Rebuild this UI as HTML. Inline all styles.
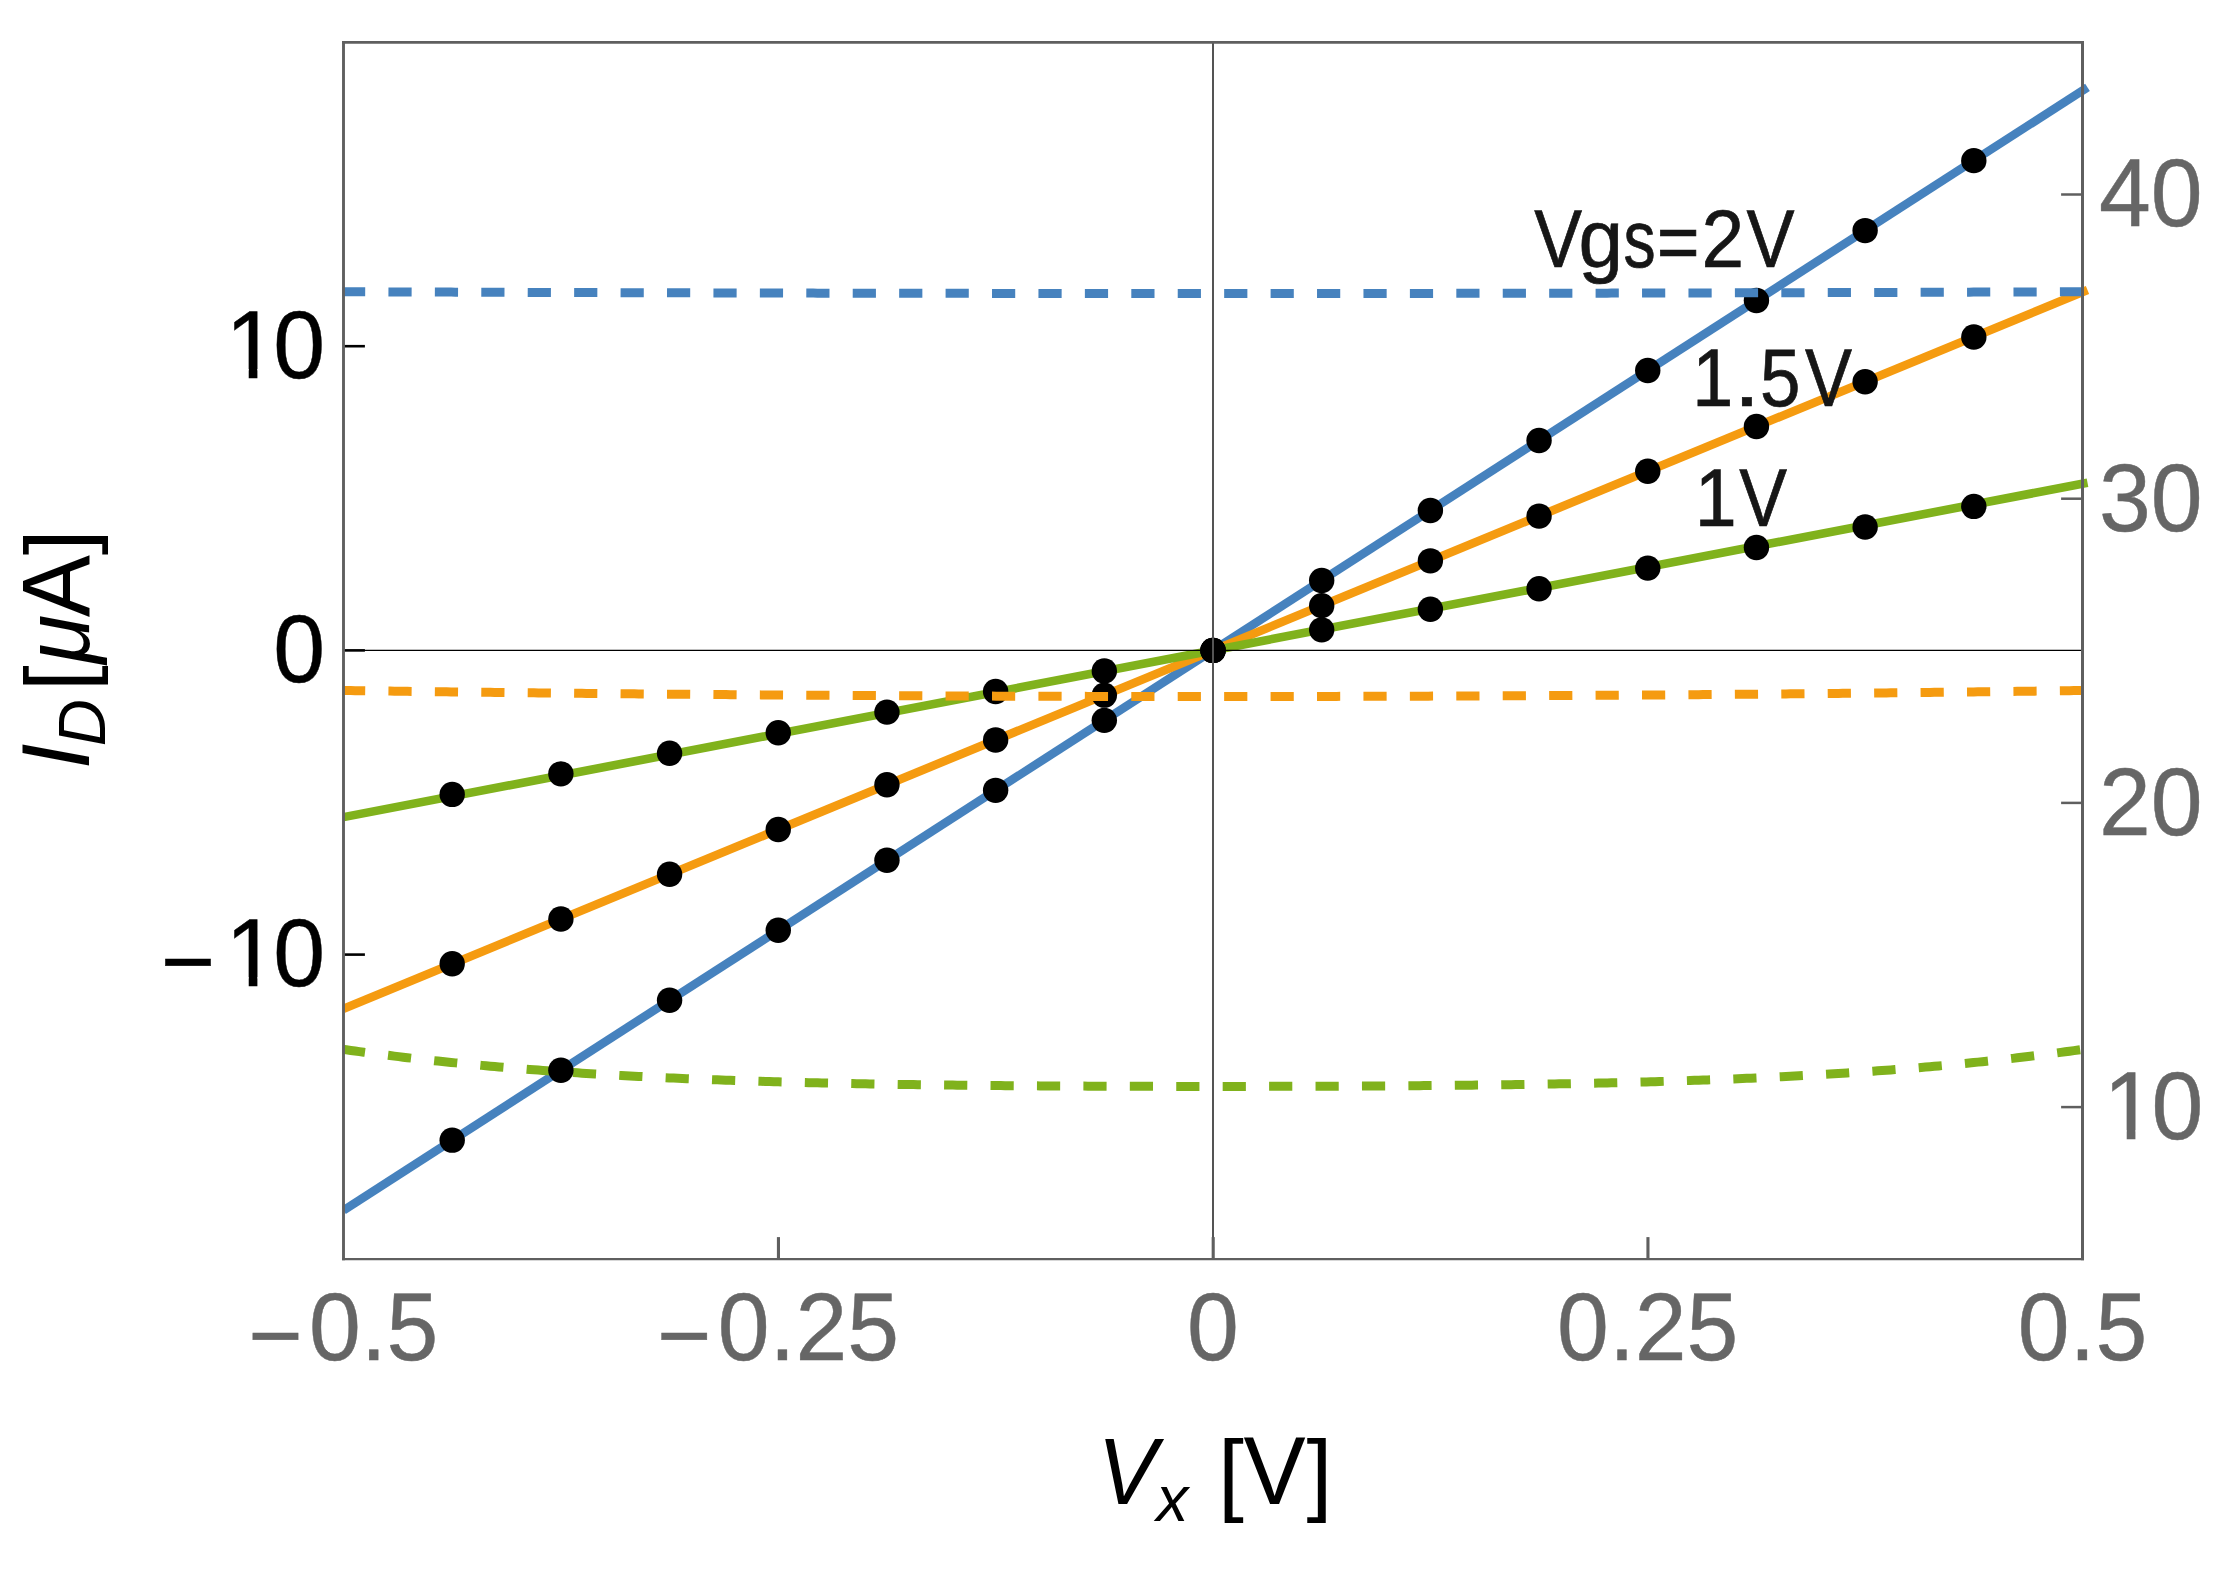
<!DOCTYPE html>
<html lang="en"><head><meta charset="utf-8"><title>ID vs Vx</title>
<style>html,body{margin:0;padding:0;background:#fff;width:2235px;height:1584px;overflow:hidden}svg{display:block}text{font-family:"Liberation Sans",sans-serif}</style></head><body>
<svg width="2235" height="1584" viewBox="0 0 2235 1584">
<rect width="2235" height="1584" fill="#fff"/>
<clipPath id="cs"><rect x="342.5" y="0" width="1759.0" height="1584"/></clipPath>
<g id="solid" fill="none" stroke-width="8.6" stroke-linecap="butt" clip-path="url(#cs)">
<line x1="343.50" y1="1210.28" x2="2087.50" y2="87.30" stroke="#4682be"/>
<line x1="343.50" y1="1008.75" x2="2087.50" y2="289.99" stroke="#f59b10"/>
<line x1="343.50" y1="817.10" x2="2087.50" y2="482.74" stroke="#80b21c"/>
</g>
<clipPath id="cl"><rect x="342.5" y="0" width="1745.0" height="1584"/></clipPath>
<g clip-path="url(#cl)"><path d="M342.00,1049.19 L346.36,1049.81 L350.73,1050.42 L355.09,1051.02 L359.45,1051.62 L363.81,1052.21 L368.18,1052.79 L372.54,1053.36 L376.90,1053.93 L381.26,1054.49 L385.62,1055.04 L389.99,1055.58 L394.35,1056.12 L398.71,1056.65 L403.07,1057.17 L407.44,1057.68 L411.80,1058.19 L416.16,1058.69 L420.52,1059.18 L424.89,1059.67 L429.25,1060.15 L433.61,1060.62 L437.98,1061.09 L442.34,1061.54 L446.70,1062.00 L451.06,1062.44 L455.43,1062.88 L459.79,1063.32 L464.15,1063.74 L468.51,1064.17 L472.88,1064.58 L477.24,1064.99 L481.60,1065.39 L485.96,1065.79 L490.32,1066.18 L494.69,1066.57 L499.05,1066.95 L503.41,1067.32 L507.77,1067.69 L512.14,1068.05 L516.50,1068.41 L520.86,1068.76 L525.23,1069.10 L529.59,1069.45 L533.95,1069.78 L538.31,1070.11 L542.67,1070.44 L547.04,1070.76 L551.40,1071.07 L555.76,1071.38 L560.12,1071.69 L564.49,1071.99 L568.85,1072.28 L573.21,1072.57 L577.58,1072.86 L581.94,1073.14 L586.30,1073.42 L590.66,1073.69 L595.02,1073.96 L599.39,1074.22 L603.75,1074.48 L608.11,1074.74 L612.48,1074.99 L616.84,1075.23 L621.20,1075.48 L625.56,1075.71 L629.92,1075.95 L634.29,1076.18 L638.65,1076.40 L643.01,1076.63 L647.38,1076.85 L651.74,1077.06 L656.10,1077.27 L660.46,1077.48 L664.83,1077.68 L669.19,1077.88 L673.55,1078.08 L677.91,1078.27 L682.27,1078.46 L686.64,1078.65 L691.00,1078.83 L695.36,1079.01 L699.73,1079.18 L704.09,1079.36 L708.45,1079.52 L712.81,1079.69 L717.17,1079.85 L721.54,1080.01 L725.90,1080.17 L730.26,1080.33 L734.62,1080.48 L738.99,1080.63 L743.35,1080.77 L747.71,1080.91 L752.08,1081.05 L756.44,1081.19 L760.80,1081.33 L765.16,1081.46 L769.52,1081.59 L773.89,1081.71 L778.25,1081.84 L782.61,1081.96 L786.98,1082.08 L791.34,1082.20 L795.70,1082.31 L800.06,1082.42 L804.42,1082.53 L808.79,1082.64 L813.15,1082.74 L817.51,1082.85 L821.88,1082.95 L826.24,1083.05 L830.60,1083.14 L834.96,1083.24 L839.33,1083.33 L843.69,1083.42 L848.05,1083.51 L852.41,1083.60 L856.77,1083.68 L861.14,1083.76 L865.50,1083.85 L869.86,1083.92 L874.23,1084.00 L878.59,1084.08 L882.95,1084.15 L887.31,1084.22 L891.67,1084.29 L896.04,1084.36 L900.40,1084.43 L904.76,1084.50 L909.12,1084.56 L913.49,1084.62 L917.85,1084.69 L922.21,1084.75 L926.58,1084.80 L930.94,1084.86 L935.30,1084.92 L939.66,1084.97 L944.02,1085.02 L948.39,1085.07 L952.75,1085.12 L957.11,1085.17 L961.48,1085.22 L965.84,1085.27 L970.20,1085.31 L974.56,1085.36 L978.92,1085.40 L983.29,1085.44 L987.65,1085.48 L992.01,1085.52 L996.38,1085.56 L1000.74,1085.60 L1005.10,1085.63 L1009.46,1085.67 L1013.83,1085.70 L1018.19,1085.73 L1022.55,1085.77 L1026.91,1085.80 L1031.28,1085.83 L1035.64,1085.86 L1040.00,1085.89 L1044.36,1085.91 L1048.72,1085.94 L1053.09,1085.97 L1057.45,1085.99 L1061.81,1086.01 L1066.17,1086.04 L1070.54,1086.06 L1074.90,1086.08 L1079.26,1086.10 L1083.62,1086.12 L1087.99,1086.14 L1092.35,1086.16 L1096.71,1086.18 L1101.08,1086.19 L1105.44,1086.21 L1109.80,1086.23 L1114.16,1086.24 L1118.53,1086.25 L1122.89,1086.27 L1127.25,1086.28 L1131.61,1086.29 L1135.97,1086.30 L1140.34,1086.31 L1144.70,1086.33 L1149.06,1086.33 L1153.42,1086.34 L1157.79,1086.35 L1162.15,1086.36 L1166.51,1086.37 L1170.88,1086.37 L1175.24,1086.38 L1179.60,1086.38 L1183.96,1086.39 L1188.33,1086.39 L1192.69,1086.39 L1197.05,1086.40 L1201.41,1086.40 L1205.78,1086.40 L1210.14,1086.40 L1214.50,1086.40 L1218.86,1086.40 L1223.22,1086.40 L1227.59,1086.40 L1231.95,1086.39 L1236.31,1086.39 L1240.67,1086.39 L1245.04,1086.38 L1249.40,1086.38 L1253.76,1086.37 L1258.12,1086.37 L1262.49,1086.36 L1266.85,1086.35 L1271.21,1086.35 L1275.58,1086.34 L1279.94,1086.33 L1284.30,1086.32 L1288.66,1086.31 L1293.03,1086.30 L1297.39,1086.28 L1301.75,1086.27 L1306.11,1086.26 L1310.47,1086.25 L1314.84,1086.23 L1319.20,1086.22 L1323.56,1086.20 L1327.92,1086.18 L1332.29,1086.17 L1336.65,1086.15 L1341.01,1086.13 L1345.38,1086.11 L1349.74,1086.09 L1354.10,1086.07 L1358.46,1086.04 L1362.83,1086.02 L1367.19,1086.00 L1371.55,1085.97 L1375.91,1085.95 L1380.28,1085.92 L1384.64,1085.89 L1389.00,1085.87 L1393.36,1085.84 L1397.72,1085.81 L1402.09,1085.78 L1406.45,1085.74 L1410.81,1085.71 L1415.17,1085.68 L1419.54,1085.64 L1423.90,1085.61 L1428.26,1085.57 L1432.62,1085.53 L1436.99,1085.49 L1441.35,1085.45 L1445.71,1085.41 L1450.08,1085.37 L1454.44,1085.33 L1458.80,1085.28 L1463.16,1085.24 L1467.53,1085.19 L1471.89,1085.14 L1476.25,1085.09 L1480.61,1085.04 L1484.97,1084.99 L1489.34,1084.93 L1493.70,1084.88 L1498.06,1084.82 L1502.42,1084.76 L1506.79,1084.70 L1511.15,1084.64 L1515.51,1084.58 L1519.88,1084.52 L1524.24,1084.45 L1528.60,1084.39 L1532.96,1084.32 L1537.33,1084.25 L1541.69,1084.17 L1546.05,1084.10 L1550.41,1084.03 L1554.78,1083.95 L1559.14,1083.87 L1563.50,1083.79 L1567.86,1083.71 L1572.22,1083.62 L1576.59,1083.54 L1580.95,1083.45 L1585.31,1083.36 L1589.67,1083.27 L1594.04,1083.17 L1598.40,1083.08 L1602.76,1082.98 L1607.12,1082.88 L1611.49,1082.78 L1615.85,1082.67 L1620.21,1082.57 L1624.58,1082.46 L1628.94,1082.34 L1633.30,1082.23 L1637.66,1082.12 L1642.03,1082.00 L1646.39,1081.88 L1650.75,1081.75 L1655.11,1081.63 L1659.47,1081.50 L1663.84,1081.37 L1668.20,1081.23 L1672.56,1081.10 L1676.92,1080.96 L1681.29,1080.82 L1685.65,1080.67 L1690.01,1080.52 L1694.38,1080.37 L1698.74,1080.22 L1703.10,1080.06 L1707.46,1079.90 L1711.83,1079.74 L1716.19,1079.58 L1720.55,1079.41 L1724.91,1079.24 L1729.28,1079.06 L1733.64,1078.88 L1738.00,1078.70 L1742.36,1078.52 L1746.72,1078.33 L1751.09,1078.14 L1755.45,1077.94 L1759.81,1077.74 L1764.17,1077.54 L1768.54,1077.34 L1772.90,1077.13 L1777.26,1076.91 L1781.62,1076.70 L1785.99,1076.47 L1790.35,1076.25 L1794.71,1076.02 L1799.08,1075.79 L1803.44,1075.55 L1807.80,1075.31 L1812.16,1075.06 L1816.53,1074.82 L1820.89,1074.56 L1825.25,1074.30 L1829.61,1074.04 L1833.97,1073.78 L1838.34,1073.50 L1842.70,1073.23 L1847.06,1072.95 L1851.42,1072.66 L1855.79,1072.38 L1860.15,1072.08 L1864.51,1071.78 L1868.88,1071.48 L1873.24,1071.17 L1877.60,1070.86 L1881.96,1070.54 L1886.33,1070.21 L1890.69,1069.89 L1895.05,1069.55 L1899.41,1069.21 L1903.78,1068.87 L1908.14,1068.52 L1912.50,1068.16 L1916.86,1067.80 L1921.22,1067.43 L1925.59,1067.06 L1929.95,1066.69 L1934.31,1066.30 L1938.67,1065.91 L1943.04,1065.52 L1947.40,1065.12 L1951.76,1064.71 L1956.12,1064.30 L1960.49,1063.88 L1964.85,1063.45 L1969.21,1063.02 L1973.58,1062.58 L1977.94,1062.14 L1982.30,1061.69 L1986.66,1061.23 L1991.03,1060.77 L1995.39,1060.30 L1999.75,1059.82 L2004.11,1059.33 L2008.47,1058.84 L2012.84,1058.35 L2017.20,1057.84 L2021.56,1057.33 L2025.92,1056.81 L2030.29,1056.28 L2034.65,1055.75 L2039.01,1055.21 L2043.38,1054.66 L2047.74,1054.10 L2052.10,1053.54 L2056.46,1052.97 L2060.82,1052.39 L2065.19,1051.81 L2069.55,1051.21 L2073.91,1050.61 L2078.28,1050.00 L2082.64,1049.38 L2087.00,1048.75" fill="none" stroke="#80b21c" stroke-width="9" stroke-dasharray="23.2 23.23"/></g>
<g id="dots" fill="#000">
<circle cx="452.19" cy="794.40" r="12.7"/>
<circle cx="560.88" cy="773.83" r="12.7"/>
<circle cx="669.56" cy="753.26" r="12.7"/>
<circle cx="778.25" cy="732.69" r="12.7"/>
<circle cx="886.94" cy="712.11" r="12.7"/>
<circle cx="995.62" cy="691.54" r="12.7"/>
<circle cx="1104.31" cy="670.97" r="12.7"/>
<circle cx="1213.00" cy="650.40" r="12.7"/>
<circle cx="1321.69" cy="629.83" r="12.7"/>
<circle cx="1430.38" cy="609.26" r="12.7"/>
<circle cx="1539.06" cy="588.69" r="12.7"/>
<circle cx="1647.75" cy="568.11" r="12.7"/>
<circle cx="1756.44" cy="547.54" r="12.7"/>
<circle cx="1865.12" cy="526.97" r="12.7"/>
<circle cx="1973.81" cy="506.40" r="12.7"/>
<circle cx="452.19" cy="963.82" r="12.7"/>
<circle cx="560.88" cy="919.05" r="12.7"/>
<circle cx="669.56" cy="874.27" r="12.7"/>
<circle cx="778.25" cy="829.50" r="12.7"/>
<circle cx="886.94" cy="784.72" r="12.7"/>
<circle cx="995.62" cy="739.95" r="12.7"/>
<circle cx="1104.31" cy="695.17" r="12.7"/>
<circle cx="1213.00" cy="650.40" r="12.7"/>
<circle cx="1321.69" cy="605.63" r="12.7"/>
<circle cx="1430.38" cy="560.85" r="12.7"/>
<circle cx="1539.06" cy="516.08" r="12.7"/>
<circle cx="1647.75" cy="471.30" r="12.7"/>
<circle cx="1756.44" cy="426.53" r="12.7"/>
<circle cx="1865.12" cy="381.75" r="12.7"/>
<circle cx="1973.81" cy="336.98" r="12.7"/>
<circle cx="452.19" cy="1140.16" r="12.7"/>
<circle cx="560.88" cy="1070.20" r="12.7"/>
<circle cx="669.56" cy="1000.23" r="12.7"/>
<circle cx="778.25" cy="930.26" r="12.7"/>
<circle cx="886.94" cy="860.30" r="12.7"/>
<circle cx="995.62" cy="790.33" r="12.7"/>
<circle cx="1104.31" cy="720.37" r="12.7"/>
<circle cx="1213.00" cy="650.40" r="12.7"/>
<circle cx="1321.69" cy="580.43" r="12.7"/>
<circle cx="1430.38" cy="510.47" r="12.7"/>
<circle cx="1539.06" cy="440.50" r="12.7"/>
<circle cx="1647.75" cy="370.54" r="12.7"/>
<circle cx="1756.44" cy="300.57" r="12.7"/>
<circle cx="1865.12" cy="230.60" r="12.7"/>
<circle cx="1973.81" cy="160.64" r="12.7"/>
</g>
<g clip-path="url(#cl)"><path d="M342.00,690.48 L346.36,690.54 L350.73,690.60 L355.09,690.66 L359.45,690.72 L363.81,690.78 L368.18,690.84 L372.54,690.89 L376.90,690.95 L381.26,691.01 L385.62,691.07 L389.99,691.12 L394.35,691.18 L398.71,691.24 L403.07,691.29 L407.44,691.35 L411.80,691.41 L416.16,691.46 L420.52,691.52 L424.89,691.57 L429.25,691.63 L433.61,691.68 L437.98,691.73 L442.34,691.79 L446.70,691.84 L451.06,691.89 L455.43,691.95 L459.79,692.00 L464.15,692.05 L468.51,692.10 L472.88,692.15 L477.24,692.20 L481.60,692.25 L485.96,692.31 L490.32,692.36 L494.69,692.41 L499.05,692.45 L503.41,692.50 L507.77,692.55 L512.14,692.60 L516.50,692.65 L520.86,692.70 L525.23,692.75 L529.59,692.79 L533.95,692.84 L538.31,692.89 L542.67,692.93 L547.04,692.98 L551.40,693.03 L555.76,693.07 L560.12,693.12 L564.49,693.16 L568.85,693.21 L573.21,693.25 L577.58,693.30 L581.94,693.34 L586.30,693.38 L590.66,693.43 L595.02,693.47 L599.39,693.51 L603.75,693.55 L608.11,693.60 L612.48,693.64 L616.84,693.68 L621.20,693.72 L625.56,693.76 L629.92,693.80 L634.29,693.84 L638.65,693.88 L643.01,693.92 L647.38,693.96 L651.74,694.00 L656.10,694.04 L660.46,694.08 L664.83,694.12 L669.19,694.15 L673.55,694.19 L677.91,694.23 L682.27,694.26 L686.64,694.30 L691.00,694.34 L695.36,694.37 L699.73,694.41 L704.09,694.44 L708.45,694.48 L712.81,694.51 L717.17,694.55 L721.54,694.58 L725.90,694.62 L730.26,694.65 L734.62,694.68 L738.99,694.72 L743.35,694.75 L747.71,694.78 L752.08,694.81 L756.44,694.85 L760.80,694.88 L765.16,694.91 L769.52,694.94 L773.89,694.97 L778.25,695.00 L782.61,695.03 L786.98,695.06 L791.34,695.09 L795.70,695.12 L800.06,695.15 L804.42,695.18 L808.79,695.20 L813.15,695.23 L817.51,695.26 L821.88,695.29 L826.24,695.31 L830.60,695.34 L834.96,695.37 L839.33,695.39 L843.69,695.42 L848.05,695.44 L852.41,695.47 L856.77,695.49 L861.14,695.52 L865.50,695.54 L869.86,695.57 L874.23,695.59 L878.59,695.61 L882.95,695.64 L887.31,695.66 L891.67,695.68 L896.04,695.70 L900.40,695.72 L904.76,695.75 L909.12,695.77 L913.49,695.79 L917.85,695.81 L922.21,695.83 L926.58,695.85 L930.94,695.87 L935.30,695.89 L939.66,695.91 L944.02,695.93 L948.39,695.94 L952.75,695.96 L957.11,695.98 L961.48,696.00 L965.84,696.02 L970.20,696.03 L974.56,696.05 L978.92,696.07 L983.29,696.08 L987.65,696.10 L992.01,696.11 L996.38,696.13 L1000.74,696.14 L1005.10,696.16 L1009.46,696.17 L1013.83,696.19 L1018.19,696.20 L1022.55,696.21 L1026.91,696.23 L1031.28,696.24 L1035.64,696.25 L1040.00,696.26 L1044.36,696.27 L1048.72,696.29 L1053.09,696.30 L1057.45,696.31 L1061.81,696.32 L1066.17,696.33 L1070.54,696.34 L1074.90,696.35 L1079.26,696.36 L1083.62,696.37 L1087.99,696.38 L1092.35,696.38 L1096.71,696.39 L1101.08,696.40 L1105.44,696.41 L1109.80,696.42 L1114.16,696.42 L1118.53,696.43 L1122.89,696.44 L1127.25,696.44 L1131.61,696.45 L1135.97,696.45 L1140.34,696.46 L1144.70,696.46 L1149.06,696.47 L1153.42,696.47 L1157.79,696.48 L1162.15,696.48 L1166.51,696.48 L1170.88,696.49 L1175.24,696.49 L1179.60,696.49 L1183.96,696.49 L1188.33,696.50 L1192.69,696.50 L1197.05,696.50 L1201.41,696.50 L1205.78,696.50 L1210.14,696.50 L1214.50,696.50 L1218.86,696.50 L1223.22,696.50 L1227.59,696.50 L1231.95,696.50 L1236.31,696.50 L1240.67,696.49 L1245.04,696.49 L1249.40,696.49 L1253.76,696.49 L1258.12,696.48 L1262.49,696.48 L1266.85,696.48 L1271.21,696.47 L1275.58,696.47 L1279.94,696.46 L1284.30,696.46 L1288.66,696.45 L1293.03,696.45 L1297.39,696.44 L1301.75,696.44 L1306.11,696.43 L1310.47,696.42 L1314.84,696.42 L1319.20,696.41 L1323.56,696.40 L1327.92,696.40 L1332.29,696.39 L1336.65,696.38 L1341.01,696.37 L1345.38,696.36 L1349.74,696.35 L1354.10,696.34 L1358.46,696.33 L1362.83,696.32 L1367.19,696.31 L1371.55,696.30 L1375.91,696.29 L1380.28,696.28 L1384.64,696.27 L1389.00,696.25 L1393.36,696.24 L1397.72,696.23 L1402.09,696.22 L1406.45,696.20 L1410.81,696.19 L1415.17,696.18 L1419.54,696.16 L1423.90,696.15 L1428.26,696.13 L1432.62,696.12 L1436.99,696.10 L1441.35,696.09 L1445.71,696.07 L1450.08,696.05 L1454.44,696.04 L1458.80,696.02 L1463.16,696.00 L1467.53,695.99 L1471.89,695.97 L1476.25,695.95 L1480.61,695.93 L1484.97,695.91 L1489.34,695.89 L1493.70,695.87 L1498.06,695.86 L1502.42,695.84 L1506.79,695.82 L1511.15,695.79 L1515.51,695.77 L1519.88,695.75 L1524.24,695.73 L1528.60,695.71 L1532.96,695.69 L1537.33,695.67 L1541.69,695.64 L1546.05,695.62 L1550.41,695.60 L1554.78,695.57 L1559.14,695.55 L1563.50,695.53 L1567.86,695.50 L1572.22,695.48 L1576.59,695.45 L1580.95,695.43 L1585.31,695.40 L1589.67,695.37 L1594.04,695.35 L1598.40,695.32 L1602.76,695.29 L1607.12,695.27 L1611.49,695.24 L1615.85,695.21 L1620.21,695.18 L1624.58,695.16 L1628.94,695.13 L1633.30,695.10 L1637.66,695.07 L1642.03,695.04 L1646.39,695.01 L1650.75,694.98 L1655.11,694.95 L1659.47,694.92 L1663.84,694.89 L1668.20,694.86 L1672.56,694.82 L1676.92,694.79 L1681.29,694.76 L1685.65,694.73 L1690.01,694.69 L1694.38,694.66 L1698.74,694.63 L1703.10,694.59 L1707.46,694.56 L1711.83,694.53 L1716.19,694.49 L1720.55,694.46 L1724.91,694.42 L1729.28,694.38 L1733.64,694.35 L1738.00,694.31 L1742.36,694.28 L1746.72,694.24 L1751.09,694.20 L1755.45,694.16 L1759.81,694.13 L1764.17,694.09 L1768.54,694.05 L1772.90,694.01 L1777.26,693.97 L1781.62,693.93 L1785.99,693.89 L1790.35,693.85 L1794.71,693.81 L1799.08,693.77 L1803.44,693.73 L1807.80,693.69 L1812.16,693.65 L1816.53,693.61 L1820.89,693.57 L1825.25,693.53 L1829.61,693.48 L1833.97,693.44 L1838.34,693.40 L1842.70,693.35 L1847.06,693.31 L1851.42,693.27 L1855.79,693.22 L1860.15,693.18 L1864.51,693.13 L1868.88,693.09 L1873.24,693.04 L1877.60,692.99 L1881.96,692.95 L1886.33,692.90 L1890.69,692.86 L1895.05,692.81 L1899.41,692.76 L1903.78,692.71 L1908.14,692.67 L1912.50,692.62 L1916.86,692.57 L1921.22,692.52 L1925.59,692.47 L1929.95,692.42 L1934.31,692.37 L1938.67,692.32 L1943.04,692.27 L1947.40,692.22 L1951.76,692.17 L1956.12,692.12 L1960.49,692.07 L1964.85,692.01 L1969.21,691.96 L1973.58,691.91 L1977.94,691.86 L1982.30,691.80 L1986.66,691.75 L1991.03,691.70 L1995.39,691.64 L1999.75,691.59 L2004.11,691.53 L2008.47,691.48 L2012.84,691.42 L2017.20,691.37 L2021.56,691.31 L2025.92,691.26 L2030.29,691.20 L2034.65,691.14 L2039.01,691.09 L2043.38,691.03 L2047.74,690.97 L2052.10,690.91 L2056.46,690.85 L2060.82,690.80 L2065.19,690.74 L2069.55,690.68 L2073.91,690.62 L2078.28,690.56 L2082.64,690.50 L2087.00,690.44" fill="none" stroke="#f59b10" stroke-width="9" stroke-dasharray="23.2 23.23"/><path d="M342.00,291.69 L346.36,291.71 L350.73,291.73 L355.09,291.75 L359.45,291.77 L363.81,291.78 L368.18,291.80 L372.54,291.82 L376.90,291.84 L381.26,291.85 L385.62,291.87 L389.99,291.89 L394.35,291.90 L398.71,291.92 L403.07,291.94 L407.44,291.95 L411.80,291.97 L416.16,291.99 L420.52,292.00 L424.89,292.02 L429.25,292.04 L433.61,292.05 L437.98,292.07 L442.34,292.09 L446.70,292.10 L451.06,292.12 L455.43,292.13 L459.79,292.15 L464.15,292.16 L468.51,292.18 L472.88,292.20 L477.24,292.21 L481.60,292.23 L485.96,292.24 L490.32,292.26 L494.69,292.27 L499.05,292.29 L503.41,292.30 L507.77,292.32 L512.14,292.33 L516.50,292.35 L520.86,292.36 L525.23,292.37 L529.59,292.39 L533.95,292.40 L538.31,292.42 L542.67,292.43 L547.04,292.44 L551.40,292.46 L555.76,292.47 L560.12,292.49 L564.49,292.50 L568.85,292.51 L573.21,292.53 L577.58,292.54 L581.94,292.55 L586.30,292.56 L590.66,292.58 L595.02,292.59 L599.39,292.60 L603.75,292.62 L608.11,292.63 L612.48,292.64 L616.84,292.65 L621.20,292.67 L625.56,292.68 L629.92,292.69 L634.29,292.70 L638.65,292.71 L643.01,292.73 L647.38,292.74 L651.74,292.75 L656.10,292.76 L660.46,292.77 L664.83,292.78 L669.19,292.80 L673.55,292.81 L677.91,292.82 L682.27,292.83 L686.64,292.84 L691.00,292.85 L695.36,292.86 L699.73,292.87 L704.09,292.88 L708.45,292.89 L712.81,292.90 L717.17,292.91 L721.54,292.92 L725.90,292.94 L730.26,292.95 L734.62,292.96 L738.99,292.97 L743.35,292.97 L747.71,292.98 L752.08,292.99 L756.44,293.00 L760.80,293.01 L765.16,293.02 L769.52,293.03 L773.89,293.04 L778.25,293.05 L782.61,293.06 L786.98,293.07 L791.34,293.08 L795.70,293.09 L800.06,293.09 L804.42,293.10 L808.79,293.11 L813.15,293.12 L817.51,293.13 L821.88,293.14 L826.24,293.14 L830.60,293.15 L834.96,293.16 L839.33,293.17 L843.69,293.18 L848.05,293.18 L852.41,293.19 L856.77,293.20 L861.14,293.21 L865.50,293.21 L869.86,293.22 L874.23,293.23 L878.59,293.23 L882.95,293.24 L887.31,293.25 L891.67,293.25 L896.04,293.26 L900.40,293.27 L904.76,293.27 L909.12,293.28 L913.49,293.29 L917.85,293.29 L922.21,293.30 L926.58,293.30 L930.94,293.31 L935.30,293.32 L939.66,293.32 L944.02,293.33 L948.39,293.33 L952.75,293.34 L957.11,293.34 L961.48,293.35 L965.84,293.35 L970.20,293.36 L974.56,293.36 L978.92,293.37 L983.29,293.37 L987.65,293.38 L992.01,293.38 L996.38,293.39 L1000.74,293.39 L1005.10,293.40 L1009.46,293.40 L1013.83,293.41 L1018.19,293.41 L1022.55,293.41 L1026.91,293.42 L1031.28,293.42 L1035.64,293.43 L1040.00,293.43 L1044.36,293.43 L1048.72,293.44 L1053.09,293.44 L1057.45,293.44 L1061.81,293.45 L1066.17,293.45 L1070.54,293.45 L1074.90,293.45 L1079.26,293.46 L1083.62,293.46 L1087.99,293.46 L1092.35,293.47 L1096.71,293.47 L1101.08,293.47 L1105.44,293.47 L1109.80,293.47 L1114.16,293.48 L1118.53,293.48 L1122.89,293.48 L1127.25,293.48 L1131.61,293.48 L1135.97,293.49 L1140.34,293.49 L1144.70,293.49 L1149.06,293.49 L1153.42,293.49 L1157.79,293.49 L1162.15,293.49 L1166.51,293.49 L1170.88,293.50 L1175.24,293.50 L1179.60,293.50 L1183.96,293.50 L1188.33,293.50 L1192.69,293.50 L1197.05,293.50 L1201.41,293.50 L1205.78,293.50 L1210.14,293.50 L1214.50,293.50 L1218.86,293.50 L1223.22,293.50 L1227.59,293.50 L1231.95,293.50 L1236.31,293.50 L1240.67,293.50 L1245.04,293.50 L1249.40,293.50 L1253.76,293.50 L1258.12,293.50 L1262.49,293.49 L1266.85,293.49 L1271.21,293.49 L1275.58,293.49 L1279.94,293.49 L1284.30,293.49 L1288.66,293.49 L1293.03,293.48 L1297.39,293.48 L1301.75,293.48 L1306.11,293.48 L1310.47,293.48 L1314.84,293.48 L1319.20,293.47 L1323.56,293.47 L1327.92,293.47 L1332.29,293.47 L1336.65,293.46 L1341.01,293.46 L1345.38,293.46 L1349.74,293.46 L1354.10,293.45 L1358.46,293.45 L1362.83,293.45 L1367.19,293.44 L1371.55,293.44 L1375.91,293.44 L1380.28,293.43 L1384.64,293.43 L1389.00,293.43 L1393.36,293.42 L1397.72,293.42 L1402.09,293.41 L1406.45,293.41 L1410.81,293.41 L1415.17,293.40 L1419.54,293.40 L1423.90,293.39 L1428.26,293.39 L1432.62,293.39 L1436.99,293.38 L1441.35,293.38 L1445.71,293.37 L1450.08,293.37 L1454.44,293.36 L1458.80,293.36 L1463.16,293.35 L1467.53,293.35 L1471.89,293.34 L1476.25,293.34 L1480.61,293.33 L1484.97,293.32 L1489.34,293.32 L1493.70,293.31 L1498.06,293.31 L1502.42,293.30 L1506.79,293.29 L1511.15,293.29 L1515.51,293.28 L1519.88,293.28 L1524.24,293.27 L1528.60,293.26 L1532.96,293.26 L1537.33,293.25 L1541.69,293.24 L1546.05,293.24 L1550.41,293.23 L1554.78,293.22 L1559.14,293.21 L1563.50,293.21 L1567.86,293.20 L1572.22,293.19 L1576.59,293.19 L1580.95,293.18 L1585.31,293.17 L1589.67,293.16 L1594.04,293.15 L1598.40,293.15 L1602.76,293.14 L1607.12,293.13 L1611.49,293.12 L1615.85,293.11 L1620.21,293.11 L1624.58,293.10 L1628.94,293.09 L1633.30,293.08 L1637.66,293.07 L1642.03,293.06 L1646.39,293.05 L1650.75,293.04 L1655.11,293.03 L1659.47,293.03 L1663.84,293.02 L1668.20,293.01 L1672.56,293.00 L1676.92,292.99 L1681.29,292.98 L1685.65,292.97 L1690.01,292.96 L1694.38,292.95 L1698.74,292.94 L1703.10,292.93 L1707.46,292.92 L1711.83,292.91 L1716.19,292.90 L1720.55,292.89 L1724.91,292.88 L1729.28,292.87 L1733.64,292.85 L1738.00,292.84 L1742.36,292.83 L1746.72,292.82 L1751.09,292.81 L1755.45,292.80 L1759.81,292.79 L1764.17,292.78 L1768.54,292.77 L1772.90,292.75 L1777.26,292.74 L1781.62,292.73 L1785.99,292.72 L1790.35,292.71 L1794.71,292.69 L1799.08,292.68 L1803.44,292.67 L1807.80,292.66 L1812.16,292.65 L1816.53,292.63 L1820.89,292.62 L1825.25,292.61 L1829.61,292.59 L1833.97,292.58 L1838.34,292.57 L1842.70,292.56 L1847.06,292.54 L1851.42,292.53 L1855.79,292.52 L1860.15,292.50 L1864.51,292.49 L1868.88,292.48 L1873.24,292.46 L1877.60,292.45 L1881.96,292.43 L1886.33,292.42 L1890.69,292.41 L1895.05,292.39 L1899.41,292.38 L1903.78,292.36 L1908.14,292.35 L1912.50,292.34 L1916.86,292.32 L1921.22,292.31 L1925.59,292.29 L1929.95,292.28 L1934.31,292.26 L1938.67,292.25 L1943.04,292.23 L1947.40,292.22 L1951.76,292.20 L1956.12,292.19 L1960.49,292.17 L1964.85,292.15 L1969.21,292.14 L1973.58,292.12 L1977.94,292.11 L1982.30,292.09 L1986.66,292.07 L1991.03,292.06 L1995.39,292.04 L1999.75,292.03 L2004.11,292.01 L2008.47,291.99 L2012.84,291.98 L2017.20,291.96 L2021.56,291.94 L2025.92,291.93 L2030.29,291.91 L2034.65,291.89 L2039.01,291.88 L2043.38,291.86 L2047.74,291.84 L2052.10,291.82 L2056.46,291.81 L2060.82,291.79 L2065.19,291.77 L2069.55,291.75 L2073.91,291.74 L2078.28,291.72 L2082.64,291.70 L2087.00,291.68" fill="none" stroke="#4682be" stroke-width="9" stroke-dasharray="23.2 23.23"/></g>
<text font-size="81.0" fill="#161616" stroke="#161616" stroke-width="0.7"><tspan x="1534.28" y="267.00" textLength="47.83" lengthAdjust="spacingAndGlyphs">V</tspan><tspan x="1578.44" y="267.00" textLength="44.52" lengthAdjust="spacingAndGlyphs">g</tspan><tspan x="1623.41" y="267.00" textLength="32.11" lengthAdjust="spacingAndGlyphs">s</tspan><tspan x="1656.72" y="270.00" textLength="42.79" lengthAdjust="spacingAndGlyphs">=</tspan><tspan x="1701.45" y="267.00" textLength="42.61" lengthAdjust="spacingAndGlyphs">2</tspan><tspan x="1746.58" y="267.00" textLength="48.03" lengthAdjust="spacingAndGlyphs">V</tspan></text>
<text font-size="81.0" fill="#161616" stroke="#161616" stroke-width="0.7"><tspan x="1692.28" y="406.00" textLength="41.02" lengthAdjust="spacingAndGlyphs">1</tspan><tspan x="1733.67" y="406.00" textLength="26.26" lengthAdjust="spacingAndGlyphs">.</tspan><tspan x="1759.89" y="406.00" textLength="40.47" lengthAdjust="spacingAndGlyphs">5</tspan><tspan x="1804.89" y="406.00" textLength="47.02" lengthAdjust="spacingAndGlyphs">V</tspan></text>
<text font-size="81.0" fill="#161616" stroke="#161616" stroke-width="0.7"><tspan x="1694.76" y="525.80" textLength="41.92" lengthAdjust="spacingAndGlyphs">1</tspan><tspan x="1739.29" y="525.80" textLength="47.73" lengthAdjust="spacingAndGlyphs">V</tspan></text>
<line x1="343.5" y1="650.4" x2="2082.5" y2="650.4" stroke="#000" stroke-width="1.4"/>
<line x1="1213.0" y1="42.4" x2="1213.0" y2="1258.8" stroke="#545454" stroke-width="2.0"/>
<g stroke="#5f5f5f" fill="none" stroke-linecap="butt">
<line x1="343.5" y1="41.1" x2="343.5" y2="1260.25" stroke-width="2.9"/>
<line x1="2082.5" y1="41.1" x2="2082.5" y2="1260.25" stroke-width="3.0"/>
<line x1="342.05" y1="42.4" x2="2084.0" y2="42.4" stroke-width="2.6"/>
<line x1="342.05" y1="1259.1" x2="2084.0" y2="1259.1" stroke-width="2.3"/>
</g>
<g stroke="#5f5f5f">
<line x1="778.45" y1="1259.1" x2="778.45" y2="1237.1" stroke-width="3.1"/>
<line x1="1213.20" y1="1259.1" x2="1213.20" y2="1237.1" stroke-width="3.1"/>
<line x1="1647.95" y1="1259.1" x2="1647.95" y2="1237.1" stroke-width="3.1"/>
<line x1="2082.5" y1="1107.10" x2="2061.1" y2="1107.10" stroke-width="2.5"/>
<line x1="2082.5" y1="802.90" x2="2061.1" y2="802.90" stroke-width="2.5"/>
<line x1="2082.5" y1="498.70" x2="2061.1" y2="498.70" stroke-width="2.5"/>
<line x1="2082.5" y1="194.50" x2="2061.1" y2="194.50" stroke-width="2.5"/>
</g>
<g stroke="#000" stroke-width="2.6">
<line x1="344.9" y1="954.60" x2="364.9" y2="954.60"/>
<line x1="344.9" y1="650.40" x2="364.9" y2="650.40"/>
<line x1="344.9" y1="346.20" x2="364.9" y2="346.20"/>
</g>
<text transform="translate(343.30,1360.00) scale(0.9756,1)" font-size="95.53" text-anchor="middle" fill="#666666" stroke="#666666" stroke-width="0.45"><tspan dy="7.5">−</tspan><tspan dy="-7.5" dx="6.5">0.5</tspan></text>
<text transform="translate(778.05,1360.00) scale(0.9756,1)" font-size="95.53" text-anchor="middle" fill="#666666" stroke="#666666" stroke-width="0.45"><tspan dy="7.5">−</tspan><tspan dy="-7.5" dx="6.5">0.25</tspan></text>
<text transform="translate(1213.00,1360.00) scale(0.9756,1)" font-size="95.53" text-anchor="middle" fill="#666666" stroke="#666666" stroke-width="0.45">0</text>
<text transform="translate(1647.75,1360.00) scale(0.9756,1)" font-size="95.53" text-anchor="middle" fill="#666666" stroke="#666666" stroke-width="0.45">0.25</text>
<text transform="translate(2082.50,1360.00) scale(0.9756,1)" font-size="95.53" text-anchor="middle" fill="#666666" stroke="#666666" stroke-width="0.45">0.5</text>
<text transform="translate(2103.50,1138.90) scale(0.9756,1)" font-size="95.53" text-anchor="start" fill="#666666" stroke="#666666" stroke-width="0.45">1<tspan dx="-4">0</tspan></text>
<text transform="translate(2099.00,834.70) scale(0.9756,1)" font-size="95.53" text-anchor="start" fill="#666666" stroke="#666666" stroke-width="0.45">20</text>
<text transform="translate(2099.00,530.50) scale(0.9756,1)" font-size="95.53" text-anchor="start" fill="#666666" stroke="#666666" stroke-width="0.45">30</text>
<text transform="translate(2099.00,226.30) scale(0.9756,1)" font-size="95.53" text-anchor="start" fill="#666666" stroke="#666666" stroke-width="0.45">40</text>
<text transform="translate(325.20,378.00) scale(0.9756,1)" font-size="95.53" text-anchor="end" fill="#000" stroke="#000" stroke-width="0.45">1<tspan dx="-4">0</tspan></text>
<text transform="translate(325.20,682.20) scale(0.9756,1)" font-size="95.53" text-anchor="end" fill="#000" stroke="#000" stroke-width="0.45">0</text>
<text transform="translate(325.20,986.40) scale(0.9756,1)" font-size="95.53" text-anchor="end" fill="#000" stroke="#000" stroke-width="0.45"><tspan dy="7.5">−</tspan><tspan dy="-7.5" dx="10.5">1</tspan><tspan dx="-4">0</tspan></text>
<rect x="229.00" y="369.00" width="19.72" height="11.00" fill="#fff"/>
<rect x="257.40" y="369.00" width="18.60" height="11.00" fill="#fff"/>
<rect x="229.00" y="977.20" width="19.72" height="11.00" fill="#fff"/>
<rect x="257.40" y="977.20" width="18.60" height="11.00" fill="#fff"/>
<rect x="2107.00" y="1130.40" width="19.71" height="11.00" fill="#fff"/>
<rect x="2135.42" y="1130.40" width="18.08" height="11.00" fill="#fff"/>
<text fill="#000"><tspan x="1097.60" y="1504.00" font-size="94.57" font-style="italic" textLength="59.70" lengthAdjust="spacingAndGlyphs">V</tspan><tspan x="1156.20" y="1520.50" font-size="64.20" font-style="italic" textLength="32.10" lengthAdjust="spacingAndGlyphs">x</tspan><tspan x="1195" y="1504" font-size="40"> </tspan><tspan x="1217.90" y="1504.00" font-size="91.15" textLength="25.89" lengthAdjust="spacingAndGlyphs">[</tspan><tspan x="1243.50" y="1504.00" font-size="95.53" textLength="62.16" lengthAdjust="spacingAndGlyphs">V</tspan><tspan x="1306.60" y="1504.00" font-size="91.15" textLength="25.89" lengthAdjust="spacingAndGlyphs">]</tspan></text>
<text fill="#000" transform="translate(89.1,766.2) rotate(-90)"><tspan x="-3.00" y="0.00" font-size="95.53" font-style="italic" textLength="25.89" lengthAdjust="spacingAndGlyphs">I</tspan><tspan x="20.00" y="16.00" font-size="67.03" font-style="italic" textLength="47.23" lengthAdjust="spacingAndGlyphs">D</tspan><tspan x="75.00" y="0.00" font-size="91.15" textLength="25.89" lengthAdjust="spacingAndGlyphs">[</tspan><tspan x="102.50" y="0.00" font-size="93.20" font-style="italic" textLength="48.92" lengthAdjust="spacingAndGlyphs">μ</tspan><tspan x="149.00" y="0.00" font-size="95.53" textLength="62.16" lengthAdjust="spacingAndGlyphs">A</tspan><tspan x="211.00" y="0.00" font-size="91.15" textLength="25.89" lengthAdjust="spacingAndGlyphs">]</tspan></text>
</svg></body></html>
